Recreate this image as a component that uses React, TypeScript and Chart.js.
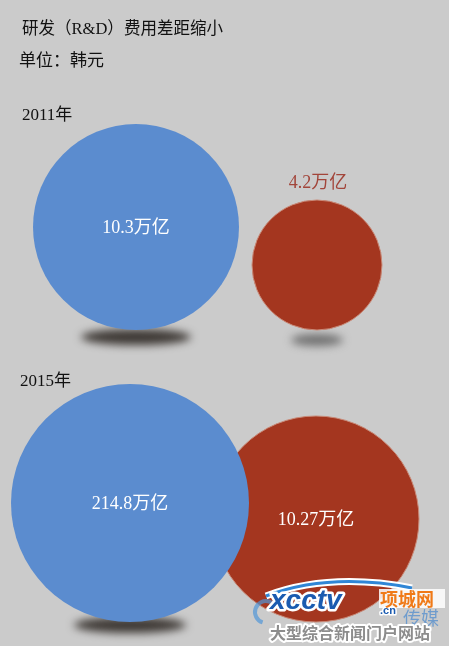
import { useEffect, useRef } from 'react';
import { Chart, registerables } from 'chart.js';

Chart.register(...registerables);

// ---- data ----
const title = '研发（R&D）费用差距缩小';
const unitLabel = '单位：韩元';
const categories = ['2011年', '2015年'];
const blueValues = [10.3, 214.8];
const redValues = [4.2, 10.27];
const valueUnit = '万亿';
// bubble sizes (radius) as drawn in the picture
const blueSizes = [103, 119];
const redSizes = [65, 103];

// ---- layout (pixels) ----
const W = 449;
const H = 646;
const blueX = [136, 130];
const redX = [317, 316];
const baselineY = [330, 622];
const yearLabelPos = [
  { x: 22, y: 116 },
  { x: 20, y: 382 },
];

const BLUE = '#5b8ccf';
const RED = '#a4361f';
const BG = '#cbcbcb';
const SERIF = '"Liberation Serif", "DejaVu Serif", "Noto Sans CJK SC", serif';
const CJK = '"Noto Sans CJK SC", sans-serif';

const shadowSpec: Record<string, ({ rx: number; ry: number; dy: number; color: string } | null)[]> = {
  blue: [
    { rx: 55, ry: 8, dy: 7, color: 'rgba(55,50,45,0.95)' },
    { rx: 56, ry: 8, dy: 3, color: 'rgba(55,50,45,0.95)' },
  ],
  red: [{ rx: 26, ry: 6, dy: 10, color: 'rgba(90,90,90,0.8)' }, null],
};

const bgPlugin = {
  id: 'bg',
  beforeDraw(chart: any) {
    const ctx = chart.ctx;
    ctx.save();
    ctx.fillStyle = BG;
    ctx.fillRect(0, 0, chart.width, chart.height);
    ctx.restore();
  },
};

const shadowPlugin = {
  id: 'shadows',
  beforeDatasetsDraw(chart: any) {
    const ctx = chart.ctx;
    chart.data.datasets.forEach((ds: any, di: number) => {
      const meta = chart.getDatasetMeta(di);
      const specs = shadowSpec[ds.label];
      meta.data.forEach((el: any, i: number) => {
        const s = specs && specs[i];
        if (!s) return;
        const r = ds.data[i].r;
        ctx.save();
        ctx.filter = 'blur(4px)';
        ctx.fillStyle = s.color;
        ctx.beginPath();
        ctx.ellipse(el.x, el.y + r + s.dy, s.rx, s.ry, 0, 0, Math.PI * 2);
        ctx.fill();
        ctx.restore();
      });
    });
  },
};

const labelPlugin = {
  id: 'valueLabels',
  afterDatasetsDraw(chart: any) {
    const ctx = chart.ctx;
    ctx.save();
    ctx.textAlign = 'center';
    ctx.textBaseline = 'middle';
    ctx.font = `18px ${SERIF}`;
    chart.data.datasets.forEach((ds: any, di: number) => {
      const meta = chart.getDatasetMeta(di);
      meta.data.forEach((el: any, i: number) => {
        const v = ds.values[i];
        const text = `${v}${valueUnit}`;
        const r = ds.data[i].r;
        if (ds.label === 'red' && i === 0) {
          ctx.fillStyle = '#a2453a';
          ctx.fillText(text, el.x + 1, el.y - r - 17);
        } else {
          ctx.fillStyle = '#ffffff';
          ctx.fillText(text, el.x, el.y + 1);
        }
      });
    });
    ctx.restore();
  },
};

const textPlugin = {
  id: 'texts',
  afterDraw(chart: any) {
    const ctx = chart.ctx;
    ctx.save();
    ctx.fillStyle = '#111111';
    ctx.textBaseline = 'middle';
    ctx.textAlign = 'left';
    ctx.font = `17px ${SERIF}`;
    ctx.fillText(title, 22, 30, 201);
    ctx.fillText(unitLabel, 19, 62);
    categories.forEach((c, i) => {
      ctx.fillText(c, yearLabelPos[i].x, yearLabelPos[i].y);
    });

    // watermark
    ctx.lineJoin = 'round';
    ctx.beginPath();
    ctx.moveTo(266, 596);
    ctx.quadraticCurveTo(330, 572, 412, 588);
    ctx.strokeStyle = '#ffffff';
    ctx.lineWidth = 7;
    ctx.stroke();
    ctx.strokeStyle = '#2f86d6';
    ctx.lineWidth = 3;
    ctx.stroke();
    ctx.beginPath();
    ctx.arc(266, 612, 11, 0.6 * Math.PI, 1.9 * Math.PI);
    ctx.strokeStyle = 'rgba(80,150,215,0.7)';
    ctx.lineWidth = 4;
    ctx.stroke();

    ctx.font = `italic bold 28px "Liberation Sans", "DejaVu Sans", sans-serif`;
    ctx.textAlign = 'left';
    ctx.strokeStyle = '#ffffff';
    ctx.lineWidth = 5;
    ctx.strokeText('xcctv', 270, 601, 110);
    ctx.fillStyle = '#1b5bb0';
    ctx.fillText('xcctv', 270, 601, 110);

    ctx.font = `bold 11px "Liberation Sans", sans-serif`;
    ctx.lineWidth = 3;
    ctx.strokeText('.cn', 380, 611);
    ctx.fillText('.cn', 380, 611);

    ctx.fillStyle = 'rgba(255,255,255,0.85)';
    ctx.fillRect(379, 589, 66, 19);
    ctx.font = `bold 18px ${CJK}`;
    ctx.fillStyle = '#f07a18';
    ctx.fillText('项城网', 380, 599);

    ctx.font = `18px ${CJK}`;
    ctx.fillStyle = 'rgba(80,140,205,0.75)';
    ctx.fillText('传媒', 403, 618);

    ctx.font = `bold 16px ${CJK}`;
    ctx.strokeStyle = '#ffffff';
    ctx.lineWidth = 4;
    ctx.strokeText('大型综合新闻门户网站', 270, 633, 168);
    ctx.fillStyle = '#8c8c8c';
    ctx.fillText('大型综合新闻门户网站', 270, 633, 168);
    ctx.restore();
  },
};

export default function App() {
  const ref = useRef<HTMLCanvasElement>(null);
  useEffect(() => {
    const canvas = ref.current;
    if (!canvas) return;
    const chart = new Chart(canvas, {
      type: 'bubble',
      data: {
        datasets: [
          {
            label: 'blue',
            values: blueValues,
            data: categories.map((_, i) => ({
              x: blueX[i],
              y: baselineY[i] - blueSizes[i],
              r: blueSizes[i],
            })),
            backgroundColor: BLUE,
            borderColor: BLUE,
            borderWidth: 0,
            clip: false,
          } as any,
          {
            label: 'red',
            values: redValues,
            data: categories.map((_, i) => ({
              x: redX[i],
              y: baselineY[i] - redSizes[i],
              r: redSizes[i],
            })),
            backgroundColor: RED,
            borderColor: '#c98a78',
            borderWidth: 1,
            clip: false,
          } as any,
        ],
      },
      options: {
        responsive: false,
        animation: false,
        events: [],
        layout: { padding: 0, autoPadding: false },
        scales: {
          x: { type: 'linear', min: 0, max: W, display: false },
          y: { type: 'linear', min: 0, max: H, reverse: true, display: false },
        },
        plugins: {
          legend: { display: false },
          tooltip: { enabled: false },
          title: { display: false },
        },
      },
      plugins: [bgPlugin, shadowPlugin, labelPlugin, textPlugin],
    });
    return () => chart.destroy();
  }, []);

  return (
    <div style={{ position: 'absolute', left: 0, top: 0, width: W, height: H }}>
      <canvas ref={ref} width={W} height={H} style={{ display: 'block', width: W, height: H }} />
    </div>
  );
}
